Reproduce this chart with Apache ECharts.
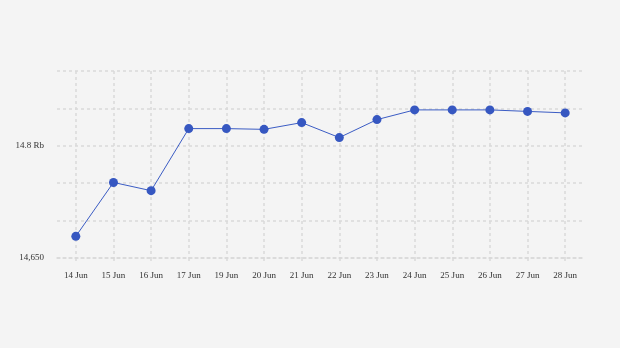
<!DOCTYPE html>
<html>
<head>
<meta charset="utf-8">
<script src="https://cdn.jsdelivr.net/npm/echarts@6/dist/echarts.min.js"></script>
<style>
html,body{margin:0;padding:0;background:#f4f4f4;}
#c{width:620px;height:348px;}
</style>
</head>
<body>
<div id="c"></div>
<script>
const categories = ['14 Jun','15 Jun','16 Jun','17 Jun','19 Jun','20 Jun','21 Jun','22 Jun','23 Jun','24 Jun','25 Jun','26 Jun','27 Jun','28 Jun'];
const values = [14679, 14751, 14740, 14823, 14823, 14822, 14831, 14811, 14835, 14848, 14848, 14848, 14846, 14844];
const yTickValues = [14650, 14800];
const yTickLabels = ['14,650', '14.8 Rb'];

const chart = echarts.init(document.getElementById('c'), null, {renderer: 'canvas'});
const gridLine = {color: '#d9d9d9', type: [3, 3], width: 1.5};
chart.setOption({
  backgroundColor: '#f4f4f4',
  animation: false,
  grid: {left: 57, right: 36, top: 71, bottom: 90},
  xAxis: {
    type: 'category',
    data: categories,
    boundaryGap: true,
    axisLine: {show: true, lineStyle: gridLine},
    axisTick: {show: true, alignWithLabel: true, length: 4, lineStyle: gridLine},
    splitLine: {show: true, alignWithLabel: true, lineStyle: gridLine},
    axisLabel: {color: '#333', fontFamily: 'Liberation Serif', fontSize: 9, margin: 13, interval: 0}
  },
  yAxis: {
    type: 'value',
    min: 14650, max: 14900, interval: 50,
    axisLine: {show: false},
    axisTick: {show: false},
    splitLine: {show: true, lineStyle: gridLine},
    axisLabel: {
      color: '#333', fontFamily: 'Liberation Serif', fontSize: 9, margin: 13,
      padding: [2, 0, 0, 0],
      formatter: function (v) {
        const i = yTickValues.indexOf(v);
        return i >= 0 ? yTickLabels[i] : '';
      }
    }
  },
  series: [{
    type: 'line',
    data: values,
    symbol: 'circle',
    symbolSize: 9,
    lineStyle: {color: '#3b5cc4', width: 1},
    itemStyle: {color: '#3657c1'}
  }]
});
</script>
</body>
</html>
